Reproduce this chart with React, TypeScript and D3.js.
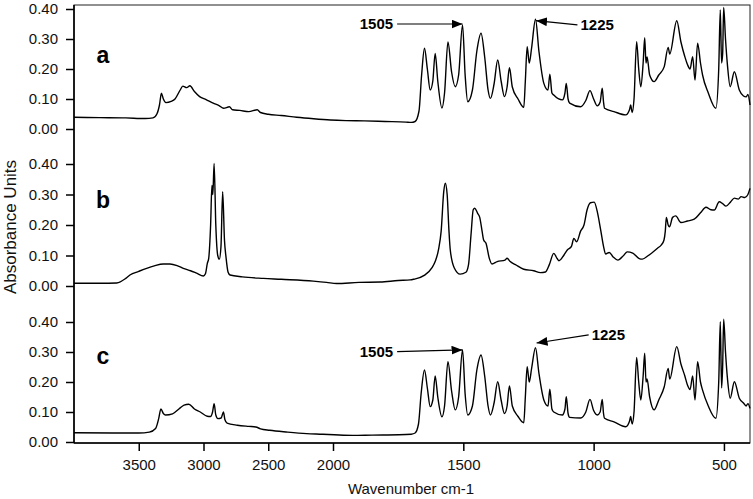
import React, { useEffect, useRef } from 'react';
import * as d3 from 'd3';

// x axis ticks (cm-1) and y ticks (absorbance)
const wavenumberTicks = [3500, 3000, 2500, 2000, 1500, 1000, 500];
const absorbanceTicks = [0, 0.1, 0.2, 0.3, 0.4];
const panelLabels = ['a', 'b', 'c'];

// [wavenumber, absorbance]
const spectrumA: [number, number][] = [
  [4000, 0.039], [3800, 0.038], [3600, 0.037], [3450, 0.035], [3390, 0.037], [3360, 0.05], [3340, 0.08],
  [3325, 0.119], [3310, 0.1], [3290, 0.088], [3250, 0.092], [3220, 0.1], [3180, 0.13], [3160, 0.143],
  [3130, 0.138], [3105, 0.144], [3070, 0.125], [3030, 0.108], [2980, 0.098], [2925, 0.086], [2880, 0.078],
  [2845, 0.069], [2800, 0.074], [2775, 0.064], [2720, 0.062], [2650, 0.058], [2585, 0.064], [2560, 0.055],
  [2500, 0.049], [2400, 0.045], [2280, 0.039], [2150, 0.034], [2020, 0.03], [1950, 0.028], [1880, 0.027],
  [1800, 0.025], [1720, 0.023], [1700, 0.022], [1685, 0.025], [1670, 0.06], [1660, 0.18], [1649, 0.269],
  [1638, 0.2], [1627, 0.13], [1617, 0.16], [1608, 0.252], [1598, 0.16], [1582, 0.07], [1572, 0.12],
  [1559, 0.29], [1545, 0.19], [1531, 0.141], [1518, 0.18], [1503, 0.347], [1493, 0.18], [1483, 0.091],
  [1465, 0.13], [1448, 0.26], [1432, 0.319], [1418, 0.24], [1405, 0.13], [1396, 0.102], [1382, 0.15],
  [1368, 0.23], [1355, 0.16], [1342, 0.108], [1332, 0.14], [1323, 0.204], [1312, 0.14], [1290, 0.1],
  [1268, 0.072], [1262, 0.16], [1255, 0.274], [1247, 0.22], [1238, 0.27], [1223, 0.366], [1210, 0.26],
  [1191, 0.152], [1175, 0.13], [1168, 0.183], [1160, 0.12], [1153, 0.113], [1120, 0.097], [1110, 0.12],
  [1105, 0.152], [1098, 0.1], [1092, 0.086], [1050, 0.074], [1030, 0.095], [1014, 0.128], [1000, 0.1],
  [986, 0.077], [975, 0.09], [967, 0.136], [962, 0.09], [958, 0.069], [922, 0.058], [877, 0.047],
  [862, 0.065], [858, 0.08], [852, 0.055], [845, 0.1], [835, 0.291], [827, 0.2], [819, 0.141], [810, 0.22],
  [804, 0.304], [799, 0.22], [795, 0.24], [785, 0.18], [768, 0.158], [750, 0.18], [729, 0.208], [714, 0.272],
  [708, 0.25], [681, 0.361], [665, 0.29], [650, 0.241], [640, 0.215], [630, 0.2], [620, 0.241], [611, 0.163],
  [601, 0.286], [590, 0.22], [582, 0.18], [560, 0.12], [531, 0.069], [520, 0.2], [514, 0.397], [509, 0.22],
  [505, 0.25], [501, 0.405], [494, 0.3], [486, 0.208], [476, 0.141], [460, 0.191], [441, 0.13], [425, 0.11],
  [415, 0.107], [408, 0.115], [400, 0.08],
];

const spectrumB: [number, number][] = [
  [4000, 0.009], [3800, 0.009], [3670, 0.01], [3600, 0.025], [3568, 0.036], [3500, 0.048], [3439, 0.058],
  [3380, 0.066], [3310, 0.072], [3259, 0.072], [3200, 0.066], [3156, 0.058], [3100, 0.05], [3053, 0.042],
  [3001, 0.033], [2985, 0.04], [2970, 0.075], [2960, 0.09], [2945, 0.2], [2935, 0.33], [2928, 0.3],
  [2918, 0.402], [2905, 0.2], [2890, 0.1], [2878, 0.088], [2865, 0.13], [2852, 0.309], [2838, 0.15],
  [2826, 0.094], [2810, 0.045], [2795, 0.036], [2700, 0.03], [2538, 0.025], [2400, 0.022], [2152, 0.016],
  [2050, 0.012], [1986, 0.008], [1900, 0.012], [1819, 0.013], [1750, 0.018], [1704, 0.02], [1691, 0.022],
  [1650, 0.035], [1620, 0.06], [1608, 0.08], [1595, 0.12], [1585, 0.18], [1575, 0.31], [1569, 0.337],
  [1562, 0.3], [1555, 0.18], [1550, 0.118], [1535, 0.06], [1512, 0.039], [1490, 0.045], [1480, 0.07],
  [1470, 0.173], [1462, 0.25], [1456, 0.255], [1445, 0.238], [1437, 0.225], [1428, 0.18], [1422, 0.151],
  [1413, 0.14], [1400, 0.09], [1390, 0.072], [1370, 0.08], [1340, 0.085], [1332, 0.091], [1320, 0.08],
  [1300, 0.07], [1268, 0.055], [1230, 0.05], [1204, 0.044], [1185, 0.046], [1170, 0.07], [1153, 0.107],
  [1140, 0.09], [1133, 0.083], [1115, 0.1], [1101, 0.118], [1085, 0.13], [1076, 0.156], [1065, 0.145],
  [1050, 0.18], [1037, 0.2], [1025, 0.25], [1012, 0.273], [998, 0.275], [985, 0.24], [973, 0.184],
  [962, 0.13], [954, 0.105], [940, 0.11], [925, 0.095], [907, 0.085], [885, 0.1], [871, 0.112], [850, 0.108],
  [825, 0.09], [813, 0.088], [790, 0.1], [755, 0.124], [740, 0.135], [730, 0.151], [725, 0.18], [721, 0.225],
  [714, 0.2], [709, 0.194], [697, 0.225], [685, 0.23], [665, 0.208], [640, 0.213], [614, 0.219], [590, 0.24],
  [569, 0.258], [550, 0.25], [537, 0.249], [518, 0.276], [505, 0.27], [492, 0.262], [475, 0.275],
  [460, 0.288], [445, 0.285], [434, 0.293], [420, 0.29], [408, 0.3], [400, 0.32],
];

const spectrumC: [number, number][] = [
  [4000, 0.031], [3700, 0.03], [3500, 0.03], [3418, 0.033], [3370, 0.045], [3346, 0.078], [3329, 0.11],
  [3310, 0.095], [3293, 0.09], [3239, 0.094], [3190, 0.11], [3150, 0.123], [3114, 0.126], [3070, 0.11],
  [3025, 0.1], [2971, 0.086], [2946, 0.085], [2930, 0.1], [2918, 0.128], [2905, 0.09], [2889, 0.078],
  [2864, 0.08], [2846, 0.1], [2835, 0.075], [2818, 0.063], [2739, 0.056], [2650, 0.052], [2596, 0.05],
  [2560, 0.044], [2489, 0.039], [2350, 0.033], [2204, 0.028], [2100, 0.026], [1995, 0.024], [1924, 0.022],
  [1850, 0.023], [1747, 0.024], [1700, 0.026], [1685, 0.03], [1672, 0.06], [1662, 0.16], [1649, 0.24],
  [1638, 0.18], [1627, 0.118], [1617, 0.14], [1608, 0.22], [1598, 0.15], [1582, 0.084], [1572, 0.12],
  [1559, 0.268], [1545, 0.17], [1531, 0.107], [1518, 0.15], [1503, 0.307], [1493, 0.16], [1483, 0.09],
  [1465, 0.12], [1448, 0.24], [1432, 0.29], [1418, 0.22], [1405, 0.12], [1396, 0.09], [1382, 0.13],
  [1368, 0.201], [1355, 0.14], [1342, 0.095], [1332, 0.12], [1323, 0.187], [1312, 0.12], [1290, 0.085],
  [1268, 0.064], [1262, 0.15], [1255, 0.251], [1247, 0.2], [1238, 0.245], [1223, 0.314], [1210, 0.23],
  [1191, 0.14], [1175, 0.12], [1168, 0.176], [1160, 0.11], [1153, 0.1], [1120, 0.09], [1110, 0.11],
  [1105, 0.151], [1098, 0.095], [1092, 0.082], [1050, 0.08], [1030, 0.1], [1014, 0.142], [1000, 0.105],
  [986, 0.09], [975, 0.1], [967, 0.142], [962, 0.095], [958, 0.079], [922, 0.067], [877, 0.051],
  [862, 0.07], [858, 0.085], [852, 0.06], [845, 0.1], [835, 0.282], [827, 0.2], [819, 0.14], [810, 0.22],
  [804, 0.296], [799, 0.2], [795, 0.21], [785, 0.15], [768, 0.107], [750, 0.14], [729, 0.184], [714, 0.245],
  [708, 0.21], [681, 0.318], [665, 0.26], [650, 0.22], [640, 0.19], [630, 0.175], [620, 0.22], [611, 0.14],
  [601, 0.268], [590, 0.2], [582, 0.173], [560, 0.12], [531, 0.079], [520, 0.2], [514, 0.401], [509, 0.18],
  [505, 0.25], [501, 0.409], [494, 0.3], [486, 0.207], [476, 0.146], [460, 0.201], [441, 0.146],
  [425, 0.13], [415, 0.12], [408, 0.128], [400, 0.112],
];

const spectra = [spectrumA, spectrumB, spectrumC];

// peak call-outs: arrow tail -> head in data units
const annotations = [
  { panel: 0, label: '1505', tail: [1754, 0.35], head: [1503, 0.35], side: 'left' },
  { panel: 0, label: '1225', tail: [1062, 0.347], head: [1221, 0.361], side: 'right' },
  { panel: 2, label: '1505', tail: [1754, 0.301], head: [1503, 0.307], side: 'left' },
  { panel: 2, label: '1225', tail: [1019, 0.357], head: [1219, 0.33], side: 'right' },
];

const FONT = 'Arial, "Liberation Sans", sans-serif';

const App = () => {
  const svgRef = useRef<SVGSVGElement>(null);

  useEffect(() => {
    const width = 753;
    const height = 499;
    const left = 74;
    const right = 750;
    const top = 5;
    const bottom = 443;

    const svg = d3.select(svgRef.current).attr('width', width).attr('height', height);
    svg.selectAll('*').remove();

    // wavenumber axis has a scale change at 2000 cm-1
    const x = d3.scaleLinear().domain([4000, 2000, 400]).range([left, 333, right]);
    const panelRanges = [[129, 9], [286, 164], [442, 322]];
    const yScales = panelRanges.map(r => d3.scaleLinear().domain([0, 0.4]).range(r));

    svg.append('rect')
      .attr('x', left).attr('y', top)
      .attr('width', right - left).attr('height', bottom - top)
      .attr('fill', 'white').attr('stroke', '#222').attr('stroke-width', 1);

    const defs = svg.append('defs');
    defs.append('marker')
      .attr('id', 'arrow')
      .attr('markerUnits', 'userSpaceOnUse')
      .attr('viewBox', '0 0 10 8')
      .attr('markerWidth', 11).attr('markerHeight', 9)
      .attr('refX', 10).attr('refY', 4)
      .attr('orient', 'auto')
      .append('path').attr('d', 'M0,0 L10,4 L0,8 Z').attr('fill', '#000');

    // spectra
    spectra.forEach((data, i) => {
      const y = yScales[i];
      const line = d3.line<[number, number]>()
        .x(d => x(d[0]))
        .y(d => y(d[1]))
        .curve(d3.curveMonotoneX);
      svg.append('path')
        .datum(data)
        .attr('d', line)
        .attr('fill', 'none')
        .attr('stroke', '#000')
        .attr('stroke-width', 1.4)
        .attr('stroke-linejoin', 'round');
    });

    // y axes, one per panel
    yScales.forEach(y => {
      const g = svg.append('g')
        .attr('transform', `translate(${left},0)`)
        .call(d3.axisLeft(y).tickValues(absorbanceTicks).tickFormat(d3.format('.2f')).tickSize(8).tickPadding(8));
      g.select('.domain').remove();
      g.selectAll('line').attr('stroke', '#000').attr('stroke-width', 1.5);
      g.selectAll('text').attr('font-family', FONT).attr('font-size', 15).attr('fill', '#111');
    });

    // x axis
    const gx = svg.append('g')
      .attr('transform', `translate(0,${bottom})`)
      .call(d3.axisBottom(x).tickValues(wavenumberTicks).tickFormat(d3.format('d')).tickSize(8).tickPadding(8));
    gx.select('.domain').remove();
    gx.selectAll('line').attr('stroke', '#000').attr('stroke-width', 1.5);
    gx.selectAll('text').attr('font-family', FONT).attr('font-size', 15).attr('fill', '#111');

    svg.append('line')
      .attr('x1', left).attr('x2', left).attr('y1', top).attr('y2', bottom)
      .attr('stroke', '#000').attr('stroke-width', 1.6);
    svg.append('line')
      .attr('x1', left).attr('x2', right).attr('y1', bottom).attr('y2', bottom)
      .attr('stroke', '#000').attr('stroke-width', 1.6);

    // panel letters
    const letterBaselines = [63, 208, 364];
    panelLabels.forEach((l, i) => {
      svg.append('text')
        .attr('x', 103).attr('y', letterBaselines[i])
        .attr('text-anchor', 'middle')
        .attr('font-family', FONT).attr('font-size', 23).attr('font-weight', 'bold')
        .text(l);
    });

    // annotations
    annotations.forEach(a => {
      const y = yScales[a.panel];
      const tx = x(a.tail[0]);
      const ty = y(a.tail[1]);
      svg.append('line')
        .attr('x1', tx).attr('y1', ty)
        .attr('x2', x(a.head[0])).attr('y2', y(a.head[1]))
        .attr('stroke', '#000').attr('stroke-width', 1.2)
        .attr('marker-end', 'url(#arrow)');
      svg.append('text')
        .attr('x', a.side === 'left' ? tx - 4 : tx + 3)
        .attr('y', ty)
        .attr('dy', '0.36em')
        .attr('text-anchor', a.side === 'left' ? 'end' : 'start')
        .attr('font-family', FONT).attr('font-size', 15).attr('font-weight', 'bold')
        .text(a.label);
    });

    // axis titles
    svg.append('text')
      .attr('x', 411).attr('y', 494)
      .attr('text-anchor', 'middle')
      .attr('font-family', FONT).attr('font-size', 15).attr('fill', '#111')
      .text('Wavenumber cm-1');
    svg.append('text')
      .attr('transform', 'translate(16,227) rotate(-90)')
      .attr('text-anchor', 'middle')
      .attr('font-family', FONT).attr('font-size', 17).attr('fill', '#111')
      .text('Absorbance Units');
  }, []);

  return <svg ref={svgRef} style={{ position: 'absolute', left: 0, top: 0 }}></svg>;
};

export default App;
